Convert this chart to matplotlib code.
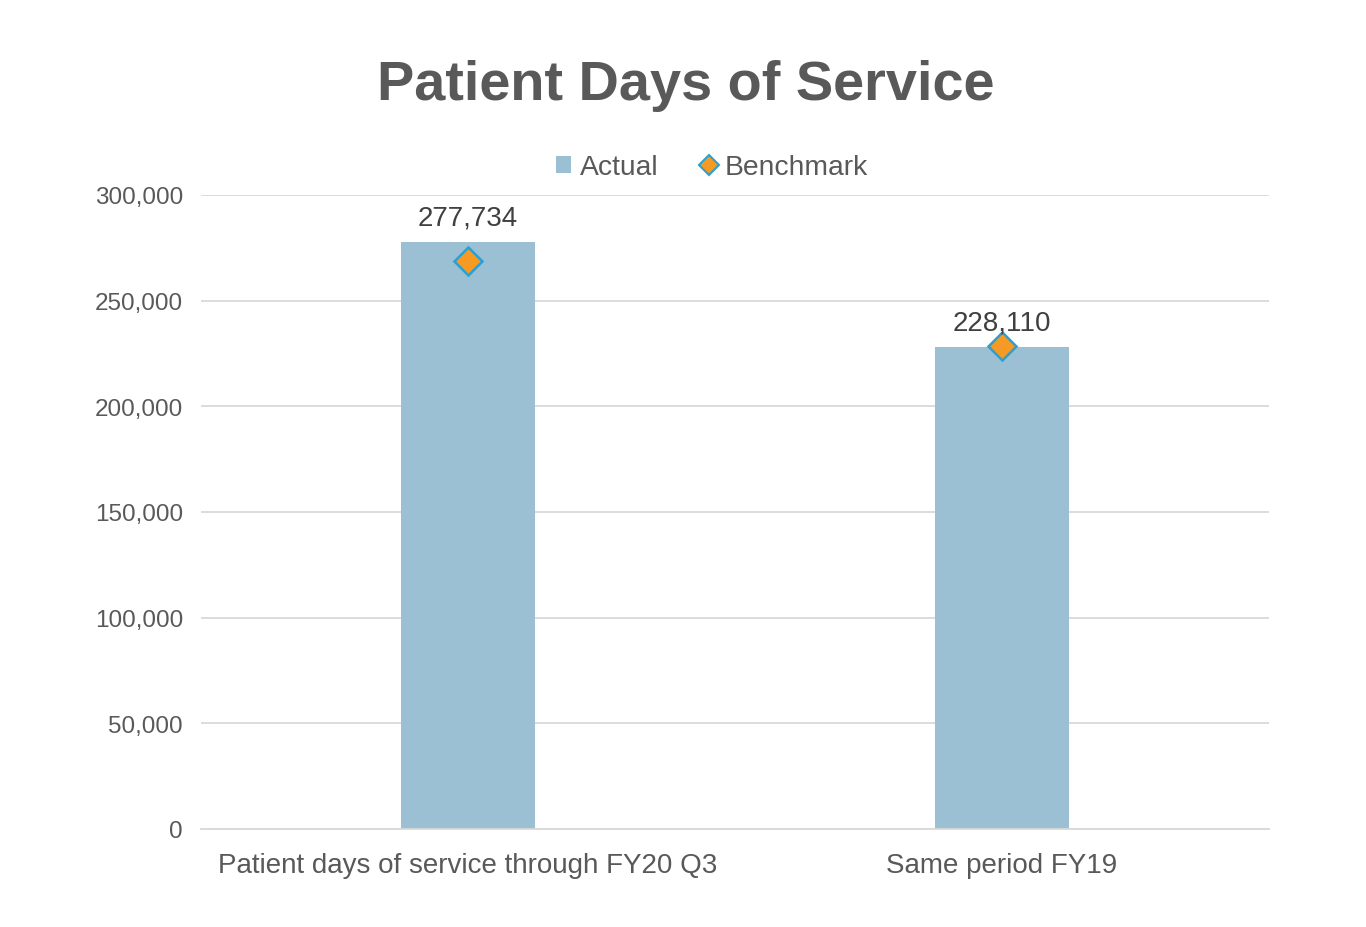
import matplotlib
matplotlib.use("Agg")
import matplotlib.pyplot as plt
from matplotlib.lines import Line2D
from matplotlib.patches import Patch

categories = ["Patient days of service through FY20 Q3", "Same period FY19"]
actual = [277734, 228110]
benchmark = [269000, 228500]
yticks = [0, 50000, 100000, 150000, 200000, 250000, 300000]

plt.rcParams['font.family'] = ['Liberation Sans', 'DejaVu Sans']
fig = plt.figure(figsize=(13.66, 9.28), dpi=100)
ax = fig.add_axes([201/1366, 1-830/928, (1269-201)/1366, (830-196)/928])

bar_color = "#9BC0D4"
x = list(range(len(categories)))
ax.bar(x, actual, width=0.25, color=bar_color, zorder=2)
ax.plot(x, benchmark, linestyle='none', marker='D', markersize=14.5,
        markerfacecolor="#F59A23", markeredgecolor="#2E9FD0", markeredgewidth=1.8, zorder=3)
for xi, v in zip(x, actual):
    ax.annotate(f"{v:,}", (xi, v), xytext=(0, 8), textcoords='offset points',
                ha='center', va='bottom', fontsize=20, color="#404040", zorder=4)

ax.set_xlim(-0.5, 1.5)
ax.set_ylim(0, 300000)
ax.set_yticks(yticks)
ax.set_yticklabels([f"{t:,}" for t in yticks])
ax.set_xticks(x)
ax.set_xticklabels(categories)
ax.tick_params(axis='y', length=0, labelsize=17.5, labelcolor="#595959", pad=13)
ax.tick_params(axis='x', length=0, labelsize=20, labelcolor="#595959", pad=16.5)
ax.grid(axis='y', color="#D9D9D9", linewidth=1.3, zorder=0)
for s in ['top', 'right', 'left']:
    ax.spines[s].set_visible(False)
ax.spines['bottom'].set_color("#D9D9D9")
ax.spines['bottom'].set_linewidth(1.3)

fig.text(686/1366, 1-86/928, "Patient Days of Service", ha='center', va='center',
         fontsize=40.2, fontweight='bold', color="#595959")

handles = [Patch(facecolor=bar_color, edgecolor='none'),
           Line2D([], [], linestyle='none', marker='D', markersize=10,
                  markerfacecolor="#F59A23", markeredgecolor="#2E9FD0", markeredgewidth=1.5)]
leg = fig.legend(handles, ["Actual", "Benchmark"], loc='center', bbox_to_anchor=(712/1366, 1-168/928),
                 ncol=2, frameon=False, fontsize=20.3, handlelength=0.55, handleheight=0.55,
                 handletextpad=0.3, columnspacing=1.5)
for t in leg.get_texts():
    t.set_color("#595959")

fig.savefig("out.png", dpi=100, facecolor='white')
